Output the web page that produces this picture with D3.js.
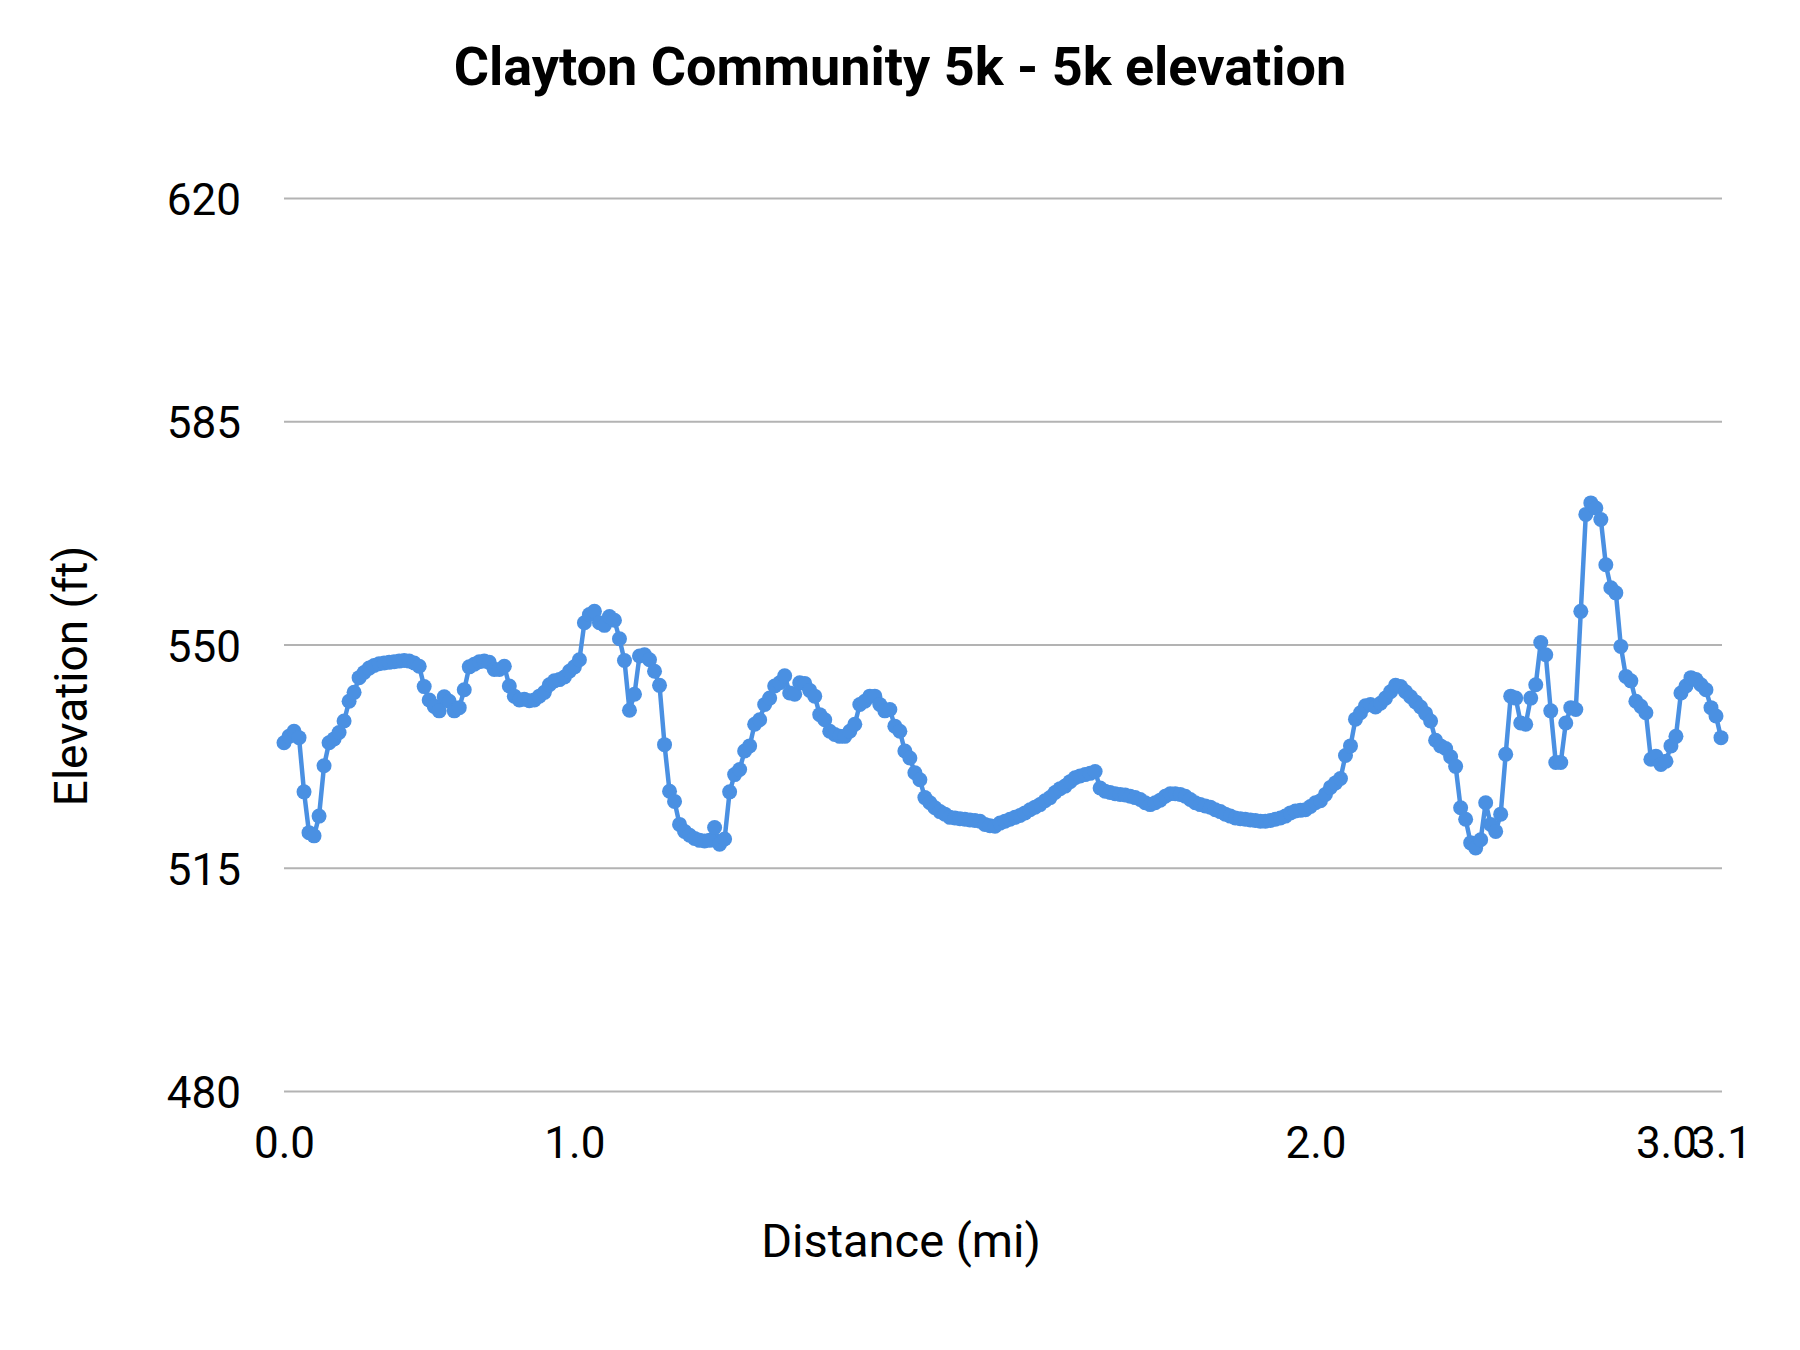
<!DOCTYPE html>
<html>
<head>
<meta charset="utf-8">
<script src="https://cdnjs.cloudflare.com/ajax/libs/d3/7.8.5/d3.min.js"></script>
<style>
  body { margin: 0; background: #fff; }
  svg { display: block; font-family: Roboto, "Noto Sans", sans-serif; }
</style>
</head>
<body>
<div class="chart"></div>
<script>
// elevation (ft) per GPS sample, samples are evenly spaced along the axis
var elevation = [
    534.6, 535.6, 536.4, 535.4, 526.9, 520.5, 520.0, 523.1, 531.0, 534.6,
    535.2, 536.2, 538.0, 541.1, 542.5, 544.8, 545.6, 546.3, 546.7, 547.0,
    547.1, 547.2, 547.3, 547.4, 547.5, 547.4, 547.1, 546.6, 543.4, 541.3,
    540.3, 539.6, 541.8, 541.1, 539.6, 540.1, 542.9, 546.5, 546.9, 547.3,
    547.4, 547.2, 546.1, 546.1, 546.6, 543.5, 541.9, 541.3, 541.4, 541.2,
    541.3, 541.9, 542.5, 543.7, 544.3, 544.5, 544.9, 545.8, 546.5, 547.6,
    553.4, 554.7, 555.2, 553.4, 553.0, 554.4, 553.8, 550.9, 547.5, 539.7,
    542.2, 548.2, 548.4, 547.6, 545.8, 543.6, 534.3, 527.0, 525.4, 521.8,
    520.7, 520.1, 519.6, 519.3, 519.2, 519.3, 521.3, 518.7, 519.5, 526.9,
    529.6, 530.4, 533.3, 534.1, 537.5, 538.2, 540.6, 541.6, 543.5, 544.0,
    545.1, 542.4, 542.2, 544.0, 543.9, 542.8, 541.9, 539.0, 538.2, 536.4,
    535.9, 535.6, 535.6, 536.4, 537.5, 540.6, 541.1, 541.9, 541.9, 540.6,
    539.6, 539.8, 537.2, 536.4, 533.3, 532.2, 529.9, 528.8, 526.0, 525.2,
    524.4, 523.8, 523.4, 522.9, 522.8, 522.7, 522.6, 522.5, 522.4, 522.3,
    521.8, 521.6, 521.5, 522.0, 522.3, 522.6, 522.9, 523.2, 523.6, 524.1,
    524.5, 524.9, 525.5, 526.0, 526.8, 527.4, 527.8, 528.5, 529.1, 529.4,
    529.6, 529.8, 530.1, 527.5, 527.0, 526.8, 526.6, 526.5, 526.4, 526.2,
    526.0, 525.7, 525.2, 524.9, 525.2, 525.6, 526.2, 526.6, 526.6, 526.5,
    526.2, 525.7, 525.2, 524.9, 524.7, 524.5, 524.1, 523.8, 523.4, 523.1,
    522.8, 522.7, 522.6, 522.5, 522.4, 522.3, 522.3, 522.4, 522.6, 522.8,
    523.1, 523.6, 523.9, 524.0, 524.1, 524.6, 525.2, 525.5, 526.5, 527.6,
    528.3, 529.0, 532.6, 534.1, 538.3, 539.3, 540.4, 540.6, 540.2, 540.8,
    541.6, 542.6, 543.6, 543.4, 542.6, 541.8, 541.0, 540.2, 539.2, 538.0,
    535.0, 534.1, 533.7, 532.4, 530.9, 524.4, 522.6, 518.9, 518.1, 519.4,
    525.2, 521.8, 520.7, 523.4, 532.8, 541.9, 541.6, 537.7, 537.5, 541.6,
    543.7, 550.3, 548.4, 539.6, 531.5, 531.5, 537.7, 540.1, 539.8, 555.2,
    570.4, 572.2, 571.4, 569.6, 562.5, 558.9, 558.1, 549.7, 545.0, 544.3,
    541.1, 540.3, 539.3, 532.0, 532.5, 531.2, 531.7, 534.1, 535.6, 542.4,
    543.5, 544.8, 544.5, 543.7, 542.9, 540.1, 538.8, 535.4
];

// sample index where each distance label sits
var distanceTickIndex = [0, 58, 206, 276, 287];
var distanceTickLabel = ["0.0", "1.0", "2.0", "3.0", "3.1"];

var elevationTicks = [480, 515, 550, 585, 620];

var width = 1800,
    height = 1350;

var svg = d3.select('.chart')
    .append("svg")
    .attr("width", width)
    .attr("height", height);

var x = d3.scaleLinear()
    .domain([0, elevation.length - 1])
    .range([284, 1721]);

var y = d3.scaleLinear()
    .domain([480, 620])
    .range([1091, 198]);

// gridlines + y labels
var yAxis = svg.append("g")
    .attr("transform", "translate(284,0)")
    .call(d3.axisLeft(y)
        .tickValues(elevationTicks)
        .tickSize(-(1722 - 284))
        .tickPadding(43)
        .tickFormat(d3.format("d")));

yAxis.select(".domain").remove();
yAxis.selectAll(".tick line")
    .attr("stroke", "#b3b3b3")
    .attr("stroke-width", 2);
yAxis.selectAll(".tick text")
    .attr("font-size", 44)
    .attr("fill", "#000")
    .attr("dy", "0.38em")
    .style("font-family", "Roboto");

// x labels at the whole-mile samples
var xAxis = svg.append("g")
    .attr("transform", "translate(0,1091)")
    .call(d3.axisBottom(x)
        .tickValues(distanceTickIndex)
        .tickSize(0)
        .tickFormat(function (d, i) { return distanceTickLabel[i]; }));

xAxis.select(".domain").remove();
xAxis.selectAll(".tick text")
    .attr("y", 67)
    .attr("dy", 0)
    .attr("font-size", 44)
    .attr("fill", "#000")
    .style("font-family", "Roboto");

var points = elevation.map(function (d, i) { return [i, d]; });

var line = d3.line()
    .x(function (d) { return x(d[0]); })
    .y(function (d) { return y(d[1]); });

svg.append("path")
    .datum(points)
    .attr("fill", "none")
    .attr("stroke", "#4a90e2")
    .attr("stroke-width", 4.5)
    .attr("stroke-linejoin", "round")
    .attr("d", line);

svg.append("g")
    .selectAll("circle")
    .data(points)
    .enter().append("circle")
    .attr("cx", function (d) { return x(d[0]); })
    .attr("cy", function (d) { return y(d[1]); })
    .attr("r", 7.5)
    .attr("fill", "#4a90e2");

// titles
svg.append("text")
    .attr("x", 900)
    .attr("y", 85)
    .attr("text-anchor", "middle")
    .attr("font-size", 54)
    .attr("font-weight", "bold")
    .text("Clayton Community 5k - 5k elevation");

svg.append("text")
    .attr("x", 901)
    .attr("y", 1257)
    .attr("text-anchor", "middle")
    .attr("font-size", 47)
    .text("Distance (mi)");

svg.append("text")
    .attr("transform", "translate(87,676) rotate(-90)")
    .attr("text-anchor", "middle")
    .attr("font-size", 46)
    .text("Elevation (ft)");
</script>
</body>
</html>
